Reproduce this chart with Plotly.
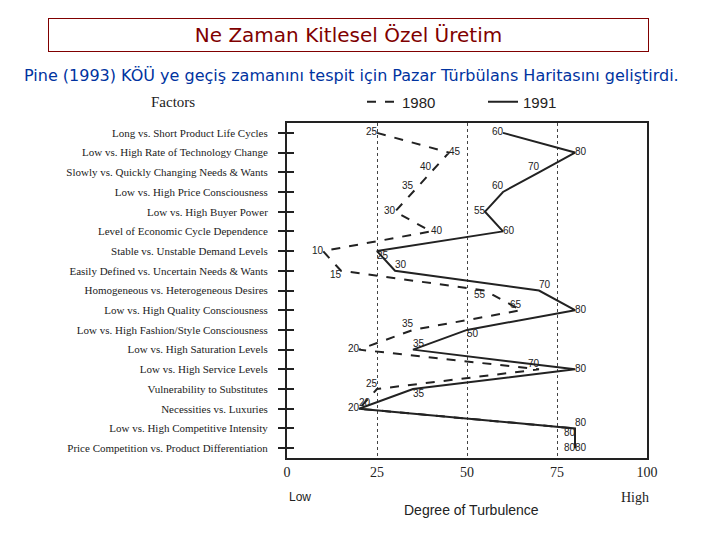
import plotly.graph_objects as go

factors = [
    "Long vs. Short Product Life Cycles",
    "Low vs. High Rate of Technology Change",
    "Slowly vs. Quickly Changing Needs & Wants",
    "Low vs. High Price Consciousness",
    "Low vs. High Buyer Power",
    "Level of Economic Cycle Dependence",
    "Stable vs. Unstable Demand Levels",
    "Easily Defined vs. Uncertain Needs & Wants",
    "Homogeneous vs. Heterogeneous Desires",
    "Low vs. High Quality Consciousness",
    "Low vs. High Fashion/Style Consciousness",
    "Low vs. High Saturation Levels",
    "Low vs. High Service Levels",
    "Vulnerability to Substitutes",
    "Necessities vs. Luxuries",
    "Low vs. High Competitive Intensity",
    "Price Competition vs. Product Differentiation",
]
values_1980 = [25, 45, 40, 35, 30, 40, 10, 15, 55, 65, 35, 20, 70, 25, 20, 80, 80]
values_1991 = [60, 80, 70, 60, 55, 60, 25, 30, 70, 80, 50, 35, 80, 35, 20, 80, 80]
x_ticks = [0, 25, 50, 75, 100]

pos_1980 = ["middle left", "middle right", "top left", "top left", "middle left",
            "middle right", "middle left", "bottom left", "bottom left", "top left",
            "top left", "middle left", "top left", "top left", "middle left",
            "bottom left", "middle left"]
pos_1991 = ["middle left", "middle right", "top left", "top left", "middle left",
            "middle right", "bottom right", "top right", "top right", "middle right",
            "bottom right", "top right", "middle right", "bottom right", "top right",
            "top right", "middle right"]

# layout geometry (target page pixels; page body adds an 8px offset)
OFF = 8
W, H = 720, 540
L, R, T, B = 287 - OFF, 720 - (647 - OFF), 123 - OFF, 540 - (458 - OFF)
pw, ph = W - L - R, H - T - B

def px(x):
    return (x - OFF - L) / pw

def py(y):
    return (H - B - (y - OFF)) / ph

line_col = "#222222"
fig = go.Figure()
fig.add_trace(go.Scatter(
    x=values_1980, y=factors, mode="lines+text", name="1980",
    line=dict(color=line_col, width=2, dash="dash"),
    text=[str(v) for v in values_1980], textposition=pos_1980,
    textfont=dict(family="Liberation Sans", size=10, color="#222"),
))
fig.add_trace(go.Scatter(
    x=values_1991, y=factors, mode="lines+text", name="1991",
    line=dict(color=line_col, width=2),
    text=[str(v) for v in values_1991], textposition=pos_1991,
    textfont=dict(family="Liberation Sans", size=10, color="#222"),
))

fig.update_layout(
    width=W, height=H,
    margin=dict(l=L, r=R, t=T, b=B),
    paper_bgcolor="white", plot_bgcolor="white",
    showlegend=True,
    legend=dict(orientation="h", x=px(362), y=py(102), xanchor="left", yanchor="middle",
                font=dict(family="Liberation Sans", size=15, color="#222"),
                entrywidth=76, entrywidthmode="pixels", bgcolor="rgba(0,0,0,0)"),
    xaxis=dict(range=[0, 100], tickvals=x_ticks, ticktext=[str(v) for v in x_ticks],
               showgrid=True, gridcolor="#444", griddash="dot", gridwidth=1.2,
               zeroline=False, showline=True, linecolor="#222", linewidth=2, mirror=True,
               ticks="", tickfont=dict(family="Liberation Serif", size=14, color="#222")),
    yaxis=dict(type="category", categoryorder="array", categoryarray=factors,
               range=[16.5, -0.5], showgrid=False, zeroline=False,
               showline=True, linecolor="#222", linewidth=2, mirror=True,
               ticks="outside", ticklen=7, tickwidth=1.5, tickcolor="#222",
               ticklabelstandoff=8,
               tickfont=dict(family="Liberation Serif", size=11, color="#222")),
    yaxis2=dict(type="category", categoryorder="array", categoryarray=factors,
                range=[16.5, -0.5], overlaying="y", side="left", showgrid=False,
                ticks="inside", ticklen=7, tickwidth=1.5, tickcolor="#222",
                showticklabels=False, matches="y"),
)
# invisible trace to activate yaxis2
fig.add_trace(go.Scatter(x=[None], y=[factors[0]], yaxis="y2", showlegend=False,
                         hoverinfo="skip", mode="markers"))

ann = [
    dict(text="Ne Zaman Kitlesel Özel Üretim", x=px(348.5), y=py(34.5), xref="paper", yref="paper",
         showarrow=False, width=597, height=30, bordercolor="#800000", borderwidth=1,
         font=dict(family="DejaVu Sans", size=20, color="#800000"), xanchor="center", yanchor="middle"),
    dict(text="Pine (1993) KÖÜ ye geçiş zamanını tespit için Pazar Türbülans Haritasını geliştirdi.",
         x=px(351), y=py(75), xref="paper", yref="paper", showarrow=False,
         font=dict(family="DejaVu Sans", size=16, color="#0033a0"), xanchor="center", yanchor="middle"),
    dict(text="Factors", x=px(173), y=py(102), xref="paper", yref="paper", showarrow=False,
         font=dict(family="Liberation Serif", size=15, color="#222"), xanchor="center", yanchor="middle"),
    dict(text="Low", x=px(287), y=py(497), xref="paper", yref="paper", showarrow=False,
         font=dict(family="Liberation Sans", size=12, color="#222"), xanchor="left", yanchor="middle"),
    dict(text="High", x=px(651), y=py(497), xref="paper", yref="paper", showarrow=False,
         font=dict(family="Liberation Serif", size=14, color="#222"), xanchor="right", yanchor="middle"),
    dict(text="Degree of Turbulence", x=px(471), y=py(510), xref="paper", yref="paper", showarrow=False,
         font=dict(family="Liberation Sans", size=14, color="#222"), xanchor="center", yanchor="middle"),
]
fig.update_layout(annotations=ann)

fig.write_html("out.html")
